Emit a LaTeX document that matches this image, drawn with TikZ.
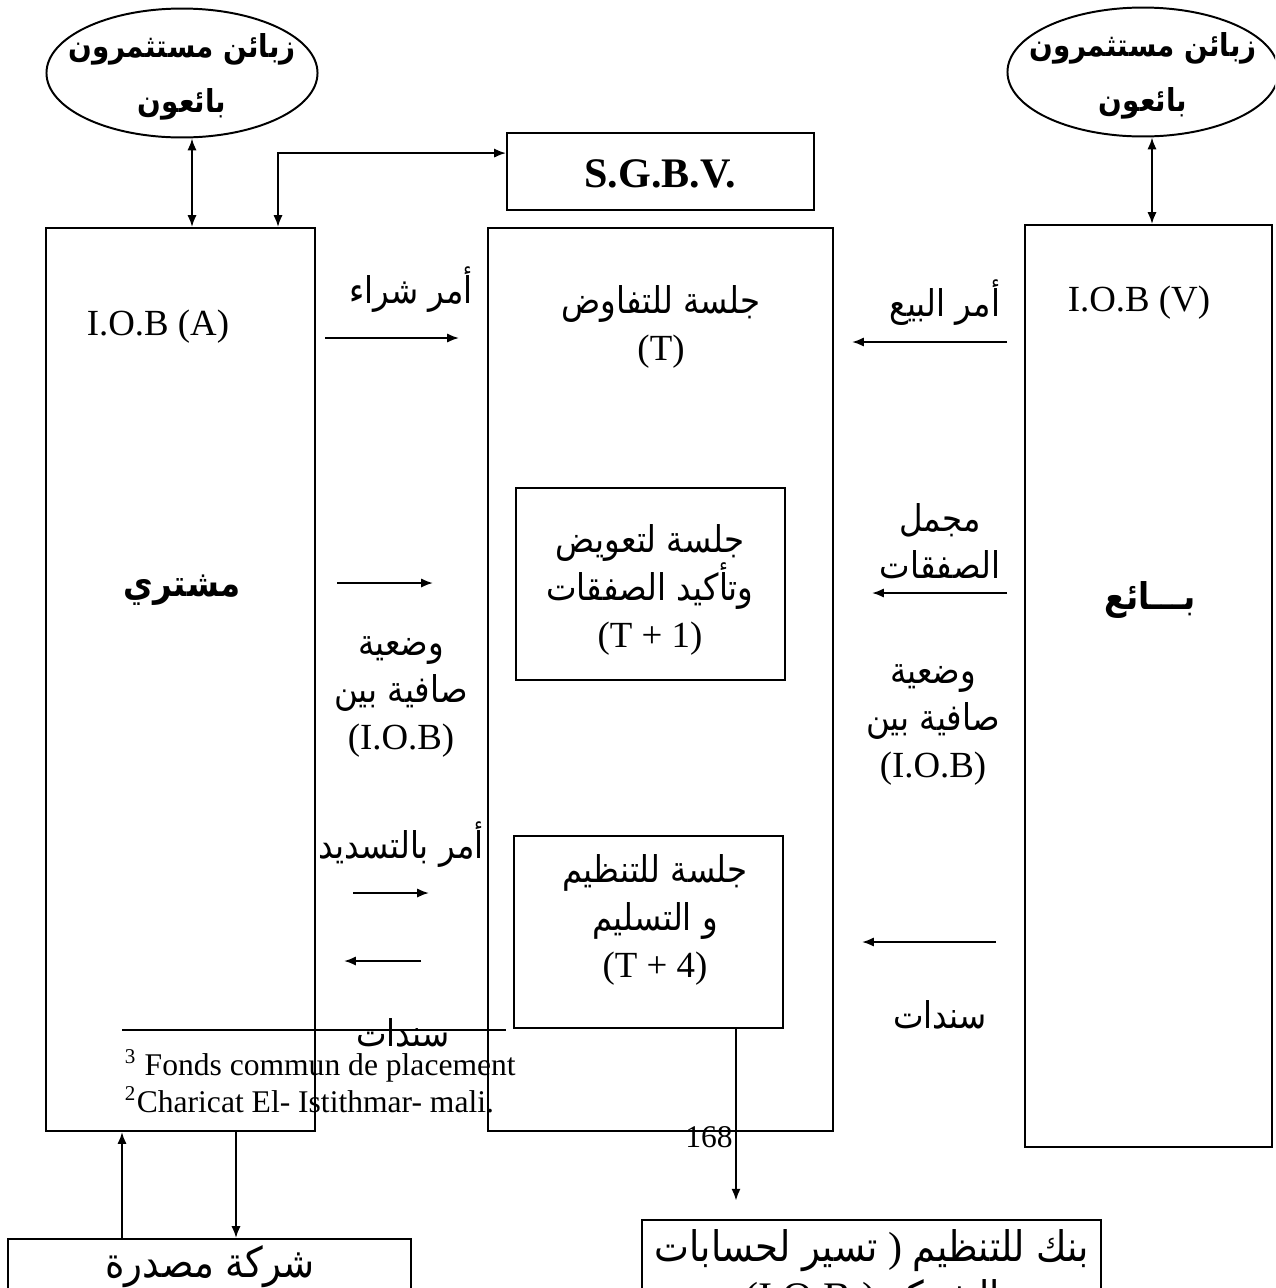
\documentclass[tikz,border=0pt]{standalone}
\usepackage{fontspec}
\setmainfont{Liberation Serif}
\newfontfamily\arabicfont[Script=Arabic, FakeStretch=0.88]{DejaVu Sans}
\TeXXeTstate=1
\usetikzlibrary{shapes.geometric,fit,arrows.meta}
\newcommand\artxt[1]{{\arabicfont\beginR #1\endR}}

\begin{document}
\begin{tikzpicture}[x=0.38pt, y=-0.38pt, line width=0.75pt, >={Latex[length=4.5pt,width=3.5pt]},
	box/.style={draw, inner sep=0pt},
	client/.style={ellipse, draw, minimum width=103pt, minimum height=49pt, inner sep=0pt},
	lbl/.style={align=center, font=\fontsize{14}{18}\selectfont},
	bold/.style={align=center, font=\fontsize{14}{18}\selectfont\bfseries},
	big/.style={align=center, font=\fontsize{16}{19}\selectfont},
	note/.style={font=\fontsize{12}{14}\selectfont}]
	\useasboundingbox (0,0) rectangle (1275,1288);
	\clip (0,0) rectangle (1275,1288);

	% clients
	\node[client] (cltA) at (182,73) {};
	\node[bold, font=\fontsize{12}{21}\selectfont\bfseries] (cltAtxt) at (182,77) {\artxt{زبائن مستثمرون}\\\artxt{بائعون}};
	\node[client] (cltV) at (1143,72) {};
	\node[bold, font=\fontsize{12}{21}\selectfont\bfseries] (cltVtxt) at (1143,76) {\artxt{زبائن مستثمرون}\\\artxt{بائعون}};

	% boxes
	\node[box, fit={(507,133) (814,210)}] (sgbv) {};
	\node[font=\fontsize{16}{18}\selectfont\bfseries] (sgbvtxt) at (660,174) {S.G.B.V.};
	\node[box, fit={(46,228) (315,1131)}] (buyer) {};
	\node[box, fit={(488,228) (833,1131)}] (market) {};
	\node[box, fit={(1025,225) (1272,1147)}] (seller) {};
	\node[box, fit={(516,488) (785,680)}] (clearing) {};
	\node[box, fit={(514,836) (783,1028)}] (settle) {};
	\node[box, fit={(8,1239) (411,1340)}] (issuer) {};
	\node[box, fit={(642,1220) (1101,1340)}] (bank) {};

	% texts
	\node[lbl] (iobA) at (158,327) {I.O.B (A)};
	\node[lbl] (iobV) at (1139,303) {I.O.B (V)};
	\node[bold] (buyertxt) at (182,590) {\artxt{مشتري}};
	\node[bold] (sellertxt) at (1150,600) {\artxt{بـــائع}};
	\node[lbl] (markettxt) at (661,327) {\artxt{جلسة للتفاوض}\\(T)};
	\node[lbl] (clearingtxt) at (650,590) {\artxt{جلسة لتعويض}\\\artxt{وتأكيد الصفقات}\\(T + 1)};
	\node[lbl] (settletxt) at (655,920) {\artxt{جلسة للتنظيم}\\\artxt{و التسليم}\\(T + 4)};
	\node[lbl] (buytxt) at (411,290) {\artxt{أمر شراء}};
	\node[lbl] (selltxt) at (945,303) {\artxt{أمر البيع}};
	\node[lbl] (totaltxt) at (940,541) {\artxt{مجمل}\\\artxt{الصفقات}};
	\node[lbl] (netA) at (401,697) {\artxt{وضعية}\\\artxt{صافية بين}\\(I.O.B)};
	\node[lbl] (netV) at (933,725) {\artxt{وضعية}\\\artxt{صافية بين}\\(I.O.B)};
	\node[lbl] (paytxt) at (401,845) {\artxt{أمر بالتسديد}};
	\node[lbl] (bondsA) at (403,1033) {\artxt{سندات}};
	\node[lbl] (bondsV) at (940,1015) {\artxt{سندات}};
	\node[big] (issuertxt) at (210,1267) {\artxt{شركة مصدرة}};
	\node[big] (banktxt) at (872,1276) {\artxt{تسير لحسابات} ) \artxt{بنك للتنظيم}\\(I.O.B ) \artxt{الشركة}};

	% footnotes
	\draw (122,1030) -- (506,1030);
	\node[note, anchor=base west, inner sep=0pt] (fn3) at (124,1075) {\textsuperscript{3} Fonds commun de placement};
	\node[note, anchor=base west, inner sep=0pt] (fn2) at (124,1112) {\textsuperscript{2}Charicat El- Istithmar- mali.};
	\node[note] (page) at (709,1137) {168};

	% flows between the sessions
	\coordinate (buy1) at (325,338);   \coordinate (buy2) at (459,338);
	\coordinate (sell1) at (1007,342); \coordinate (sell2) at (852,342);
	\coordinate (netA1) at (337,583);  \coordinate (netA2) at (433,583);
	\coordinate (tot1) at (1007,593);  \coordinate (tot2) at (872,593);
	\coordinate (payA1) at (353,893);  \coordinate (payA2) at (429,893);
	\coordinate (payB1) at (421,961);  \coordinate (payB2) at (344,961);
	\coordinate (bond1) at (996,942);  \coordinate (bond2) at (862,942);

	\path[->]
		(buy1) edge (buy2)
		(sell1) edge (sell2)
		(netA1) edge (netA2)
		(tot1) edge (tot2)
		(payA1) edge (payA2)
		(payB1) edge (payB2)
		(bond1) edge (bond2);

	\draw[<->] (cltA.south -| 192,0) -- (buyer.north -| 192,0);
	\draw[<->] (cltV.south -| 1152,0) -- (seller.north -| 1152,0);
	\draw[<->] (buyer.north -| 278,0) |- ([yshift=7pt]sgbv.west);
	\draw[->] (issuer.north -| 122,0) -- (buyer.south -| 122,0);
	\draw[->] (buyer.south -| 236,0) -- (issuer.north -| 236,0);
	\draw[->, shorten >=7pt] (settle.south -| 736,0) -- (bank.north -| 736,0);
\end{tikzpicture}
\end{document}
